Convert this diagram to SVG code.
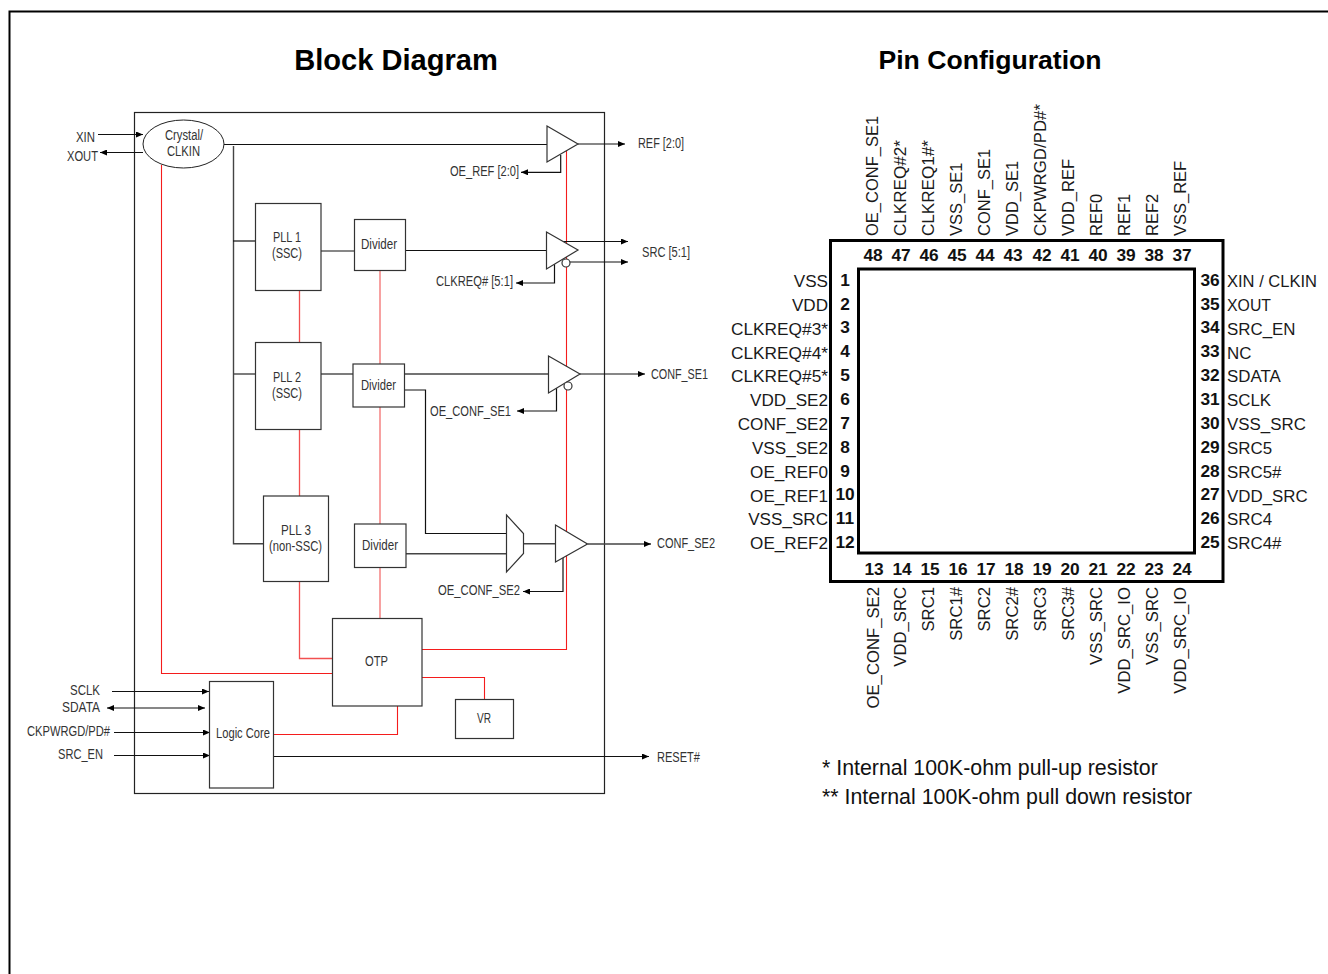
<svg xmlns="http://www.w3.org/2000/svg" width="1328" height="974" viewBox="0 0 1328 974">
<style>
text{font-family:"Liberation Sans",Arial,sans-serif}
.t{font-size:14px;fill:#333}
.box{fill:#fff;stroke:#333;stroke-width:1.2}
.k{fill:none;stroke:#111;stroke-width:1.2}
.g{fill:none;stroke:#444;stroke-width:1.4}
.r{fill:none;stroke:#f41c1c;stroke-width:1.1}
.q{fill:none;stroke:#f25050;stroke-width:1.3}
.p{fill:none;stroke:#f58a8a;stroke-width:1.6}
.a{marker-end:url(#ah)}
.n{font-size:17.3px;font-weight:bold;fill:#111;text-anchor:middle}
.l{font-size:17.1px;fill:#1a1a1a;text-anchor:end}
.m{font-size:16.9px;fill:#1a1a1a}
.v{font-size:16.5px;fill:#1a1a1a}
.ve{font-size:16.7px;fill:#1a1a1a;text-anchor:end}
</style>
<defs>
<marker id="ah" markerUnits="userSpaceOnUse" markerWidth="7" markerHeight="6" refX="7" refY="3" orient="auto"><path d="M0 0L7 3L0 6Z" fill="#000"/></marker>
<marker id="as" markerUnits="userSpaceOnUse" markerWidth="7" markerHeight="6" refX="0" refY="3" orient="auto"><path d="M7 0L0 3L7 6Z" fill="#000"/></marker>
</defs>
<rect width="1328" height="974" fill="#fff"/>
<path d="M1328 11.5H9.5V974" fill="none" stroke="#000" stroke-width="2"/>
<text x="396" y="70" font-size="29.1" font-weight="bold" text-anchor="middle" fill="#000">Block Diagram</text>
<text x="990" y="69" font-size="26.6" font-weight="bold" text-anchor="middle" fill="#000">Pin Configuration</text>
<rect id="block-frame" x="134.5" y="112.5" width="470" height="681" fill="none" stroke="#222" stroke-width="1.2"/>
<g id="connectors">
<path class="r" d="M566.5 137V649.5H422"/>
<path class="r" d="M161.5 165V673.5H332.5"/>
<path class="q" d="M299.5 290V342M299.5 429V496"/>
<path class="q" d="M299.5 581.5V658.5H332.5"/>
<path class="p" d="M380 270V364M380 407V524M380 567.5V618.5"/>
<path class="r" d="M422 677.5H484.5V699.5"/>
<path class="r" d="M273.5 734.5H397.5V706"/>
<path class="k a" d="M98 134.5H143"/>
<path class="k a" d="M143 152.5H100"/>
<path class="k" d="M224 144.5H547"/>
<path class="g" d="M233.5 146V543.7H263.5"/>
<path class="k" d="M233 241H255.5"/>
<path class="g" d="M233.5 374H255.5"/>
<path class="k" d="M321 251H354"/>
<path class="g" d="M321 374H353"/>
<path class="k" d="M405.5 250.5H546.5"/>
<path class="g" d="M404.5 374H548.5"/>
<path class="k" d="M404.5 390H425.5V533.5H506.5"/>
<path class="g" d="M406 553.7H506.5"/>
<path class="g" d="M523.5 543.7H555.5"/>
<path class="k a" d="M578 144H625"/>
<path class="k a" d="M563 241.5H628"/>
<path class="k a" d="M570 262H628"/>
<path class="k a" d="M580 374H645"/>
<path class="g a" d="M587.5 544H651"/>
<path class="k a" d="M560.7 155V172.3H521"/>
<path class="k a" d="M554.5 264V283H516"/>
<path class="k a" d="M556.5 386V411H517"/>
<path class="k a" d="M563 556V591.5H523"/>
<path class="k a" d="M112 691.5H209"/>
<path class="k a" style="marker-start:url(#as)" d="M107 708H205"/>
<path class="k a" d="M114 732.5H210"/>
<path class="k a" d="M114 755.5H210"/>
<path class="k a" d="M273.5 756.5H649"/>
</g>
<g id="crystal"><ellipse cx="183.5" cy="144" rx="40.5" ry="24" fill="#fff" stroke="#222" stroke-width="1"/>
<text class="t" x="165" y="140" textLength="38" lengthAdjust="spacingAndGlyphs">Crystal/</text>
<text class="t" x="167" y="156" textLength="33" lengthAdjust="spacingAndGlyphs">CLKIN</text></g>
<g id="pll1"><rect class="box" x="255.5" y="203.5" width="65.5" height="87"/>
<text class="t" x="273" y="242" textLength="28" lengthAdjust="spacingAndGlyphs">PLL 1</text>
<text class="t" x="272" y="258" textLength="30" lengthAdjust="spacingAndGlyphs">(SSC)</text></g>
<g id="pll2"><rect class="box" x="255.5" y="342.5" width="65.5" height="87"/>
<text class="t" x="273" y="382" textLength="28" lengthAdjust="spacingAndGlyphs">PLL 2</text>
<text class="t" x="272" y="398" textLength="30" lengthAdjust="spacingAndGlyphs">(SSC)</text></g>
<g id="pll3"><rect class="box" x="263.5" y="496" width="65" height="85.5"/>
<text class="t" x="281" y="535" textLength="30" lengthAdjust="spacingAndGlyphs">PLL 3</text>
<text class="t" x="269" y="551" textLength="53" lengthAdjust="spacingAndGlyphs">(non-SSC)</text></g>
<g id="divider1"><rect class="box" x="354.5" y="219.5" width="51" height="51"/>
<text class="t" x="361" y="249" textLength="36" lengthAdjust="spacingAndGlyphs">Divider</text></g>
<g id="divider2"><rect class="box" x="353" y="364" width="51.5" height="43"/>
<text class="t" x="361" y="390" textLength="35" lengthAdjust="spacingAndGlyphs">Divider</text></g>
<g id="divider3"><rect class="box" x="354.5" y="524" width="51.5" height="43.5"/>
<text class="t" x="362" y="550" textLength="36" lengthAdjust="spacingAndGlyphs">Divider</text></g>
<g id="otp"><rect class="box" x="332.5" y="618.5" width="89.5" height="87.5"/>
<text class="t" x="365" y="666" textLength="23" lengthAdjust="spacingAndGlyphs">OTP</text></g>
<g id="vr"><rect class="box" x="455.5" y="699.5" width="58" height="39"/>
<text class="t" x="477" y="723" textLength="14" lengthAdjust="spacingAndGlyphs">VR</text></g>
<g id="logic-core"><rect class="box" x="209.5" y="681.5" width="64" height="106.5"/>
<text class="t" x="216" y="738" textLength="54" lengthAdjust="spacingAndGlyphs">Logic Core</text></g>
<g id="buffer-ref"><path class="box" d="M547 126L578 144L547 162Z"/></g>
<g id="buffer-src"><path class="box" d="M546.5 232L578 250L546.5 269Z"/><circle class="box" cx="566" cy="263" r="4"/></g>
<g id="buffer-conf1"><path class="box" d="M548.5 356L580 374L548.5 393Z"/><circle class="box" cx="568" cy="386" r="4"/></g>
<g id="mux"><path class="box" d="M506.5 515L523.5 533.5V553.5L506.5 572Z"/></g>
<g id="buffer-conf2"><path class="box" d="M555.5 525L587.5 544L555.5 562Z"/></g>
<g id="block-labels">
<text class="t" x="76" y="142" textLength="19" lengthAdjust="spacingAndGlyphs">XIN</text>
<text class="t" x="67" y="161" textLength="31" lengthAdjust="spacingAndGlyphs">XOUT</text>
<text class="t" x="638" y="148" textLength="46" lengthAdjust="spacingAndGlyphs">REF [2:0]</text>
<text class="t" x="642" y="257" textLength="48" lengthAdjust="spacingAndGlyphs">SRC [5:1]</text>
<text class="t" x="450" y="176" textLength="69" lengthAdjust="spacingAndGlyphs">OE_REF [2:0]</text>
<text class="t" x="436" y="286" textLength="77" lengthAdjust="spacingAndGlyphs">CLKREQ# [5:1]</text>
<text class="t" x="651" y="379" textLength="57" lengthAdjust="spacingAndGlyphs">CONF_SE1</text>
<text class="t" x="430" y="416" textLength="81" lengthAdjust="spacingAndGlyphs">OE_CONF_SE1</text>
<text class="t" x="657" y="548" textLength="58" lengthAdjust="spacingAndGlyphs">CONF_SE2</text>
<text class="t" x="438" y="595" textLength="82" lengthAdjust="spacingAndGlyphs">OE_CONF_SE2</text>
<text class="t" x="657" y="762" textLength="43" lengthAdjust="spacingAndGlyphs">RESET#</text>
<text class="t" x="70" y="695" textLength="30" lengthAdjust="spacingAndGlyphs">SCLK</text>
<text class="t" x="62" y="712" textLength="38" lengthAdjust="spacingAndGlyphs">SDATA</text>
<text class="t" x="27" y="736" textLength="83" lengthAdjust="spacingAndGlyphs">CKPWRGD/PD#</text>
<text class="t" x="58" y="759" textLength="45" lengthAdjust="spacingAndGlyphs">SRC_EN</text>
</g>
<g id="chip"><rect x="830.5" y="240.5" width="392.5" height="341" fill="#fff" stroke="#000" stroke-width="3"/>
<rect x="858.5" y="269" width="336" height="284" fill="#fff" stroke="#000" stroke-width="3"/></g>
<g id="pins-left">
<text class="l" x="828" y="287">VSS</text><text class="n" x="845" y="286">1</text>
<text class="l" x="828" y="311">VDD</text><text class="n" x="845" y="310">2</text>
<text class="l" x="828" y="335" textLength="97" lengthAdjust="spacingAndGlyphs">CLKREQ#3*</text><text class="n" x="845" y="333">3</text>
<text class="l" x="828" y="359" textLength="97" lengthAdjust="spacingAndGlyphs">CLKREQ#4*</text><text class="n" x="845" y="357">4</text>
<text class="l" x="828" y="382" textLength="97" lengthAdjust="spacingAndGlyphs">CLKREQ#5*</text><text class="n" x="845" y="381">5</text>
<text class="l" x="828" y="406">VDD_SE2</text><text class="n" x="845" y="405">6</text>
<text class="l" x="828" y="430">CONF_SE2</text><text class="n" x="845" y="429">7</text>
<text class="l" x="828" y="454">VSS_SE2</text><text class="n" x="845" y="453">8</text>
<text class="l" x="828" y="478">OE_REF0</text><text class="n" x="845" y="477">9</text>
<text class="l" x="828" y="502">OE_REF1</text><text class="n" x="845" y="500">10</text>
<text class="l" x="828" y="525">VSS_SRC</text><text class="n" x="845" y="524">11</text>
<text class="l" x="828" y="549">OE_REF2</text><text class="n" x="845" y="548">12</text>
</g>
<g id="pins-right">
<text class="m" x="1227" y="287" textLength="90" lengthAdjust="spacingAndGlyphs">XIN / CLKIN</text><text class="n" x="1210" y="286">36</text>
<text class="m" x="1227" y="311" textLength="44" lengthAdjust="spacingAndGlyphs">XOUT</text><text class="n" x="1210" y="310">35</text>
<text class="m" x="1227" y="335">SRC_EN</text><text class="n" x="1210" y="333">34</text>
<text class="m" x="1227" y="359">NC</text><text class="n" x="1210" y="357">33</text>
<text class="m" x="1227" y="382">SDATA</text><text class="n" x="1210" y="381">32</text>
<text class="m" x="1227" y="406">SCLK</text><text class="n" x="1210" y="405">31</text>
<text class="m" x="1227" y="430">VSS_SRC</text><text class="n" x="1210" y="429">30</text>
<text class="m" x="1227" y="454">SRC5</text><text class="n" x="1210" y="453">29</text>
<text class="m" x="1227" y="478">SRC5#</text><text class="n" x="1210" y="477">28</text>
<text class="m" x="1227" y="502">VDD_SRC</text><text class="n" x="1210" y="500">27</text>
<text class="m" x="1227" y="525">SRC4</text><text class="n" x="1210" y="524">26</text>
<text class="m" x="1227" y="549">SRC4#</text><text class="n" x="1210" y="548">25</text>
</g>
<g id="pins-top">
<text class="v" transform="translate(878 236) rotate(-90)">OE_CONF_SE1</text><text class="n" x="873" y="261">48</text>
<text class="v" transform="translate(906 236) rotate(-90)" textLength="96" lengthAdjust="spacingAndGlyphs">CLKREQ#2*</text><text class="n" x="901" y="261">47</text>
<text class="v" transform="translate(934 236) rotate(-90)" textLength="96" lengthAdjust="spacingAndGlyphs">CLKREQ1#*</text><text class="n" x="929" y="261">46</text>
<text class="v" transform="translate(962 236) rotate(-90)">VSS_SE1</text><text class="n" x="957" y="261">45</text>
<text class="v" transform="translate(990 236) rotate(-90)">CONF_SE1</text><text class="n" x="985" y="261">44</text>
<text class="v" transform="translate(1018 236) rotate(-90)">VDD_SE1</text><text class="n" x="1013" y="261">43</text>
<text class="v" transform="translate(1046 236) rotate(-90)" textLength="132" lengthAdjust="spacingAndGlyphs">CKPWRGD/PD#*</text><text class="n" x="1042" y="261">42</text>
<text class="v" transform="translate(1074 236) rotate(-90)">VDD_REF</text><text class="n" x="1070" y="261">41</text>
<text class="v" transform="translate(1102 236) rotate(-90)">REF0</text><text class="n" x="1098" y="261">40</text>
<text class="v" transform="translate(1130 236) rotate(-90)">REF1</text><text class="n" x="1126" y="261">39</text>
<text class="v" transform="translate(1158 236) rotate(-90)">REF2</text><text class="n" x="1154" y="261">38</text>
<text class="v" transform="translate(1186 236) rotate(-90)">VSS_REF</text><text class="n" x="1182" y="261">37</text>
</g>
<g id="pins-bottom">
<text class="ve" transform="translate(879 587) rotate(-90)">OE_CONF_SE2</text><text class="n" x="874" y="575">13</text>
<text class="ve" transform="translate(906 587) rotate(-90)">VDD_SRC</text><text class="n" x="902" y="575">14</text>
<text class="ve" transform="translate(934 587) rotate(-90)">SRC1</text><text class="n" x="930" y="575">15</text>
<text class="ve" transform="translate(962 587) rotate(-90)">SRC1#</text><text class="n" x="958" y="575">16</text>
<text class="ve" transform="translate(990 587) rotate(-90)">SRC2</text><text class="n" x="986" y="575">17</text>
<text class="ve" transform="translate(1018 587) rotate(-90)">SRC2#</text><text class="n" x="1014" y="575">18</text>
<text class="ve" transform="translate(1046 587) rotate(-90)">SRC3</text><text class="n" x="1042" y="575">19</text>
<text class="ve" transform="translate(1074 587) rotate(-90)">SRC3#</text><text class="n" x="1070" y="575">20</text>
<text class="ve" transform="translate(1102 587) rotate(-90)">VSS_SRC</text><text class="n" x="1098" y="575">21</text>
<text class="ve" transform="translate(1130 587) rotate(-90)">VDD_SRC_IO</text><text class="n" x="1126" y="575">22</text>
<text class="ve" transform="translate(1158 587) rotate(-90)">VSS_SRC</text><text class="n" x="1154" y="575">23</text>
<text class="ve" transform="translate(1186 587) rotate(-90)">VDD_SRC_IO</text><text class="n" x="1182" y="575">24</text>
</g>
<g id="notes" font-size="21.35" fill="#111">
<text x="822" y="775">* Internal 100K-ohm pull-up resistor</text>
<text x="822" y="804">** Internal 100K-ohm pull down resistor</text>
</g>
</svg>
